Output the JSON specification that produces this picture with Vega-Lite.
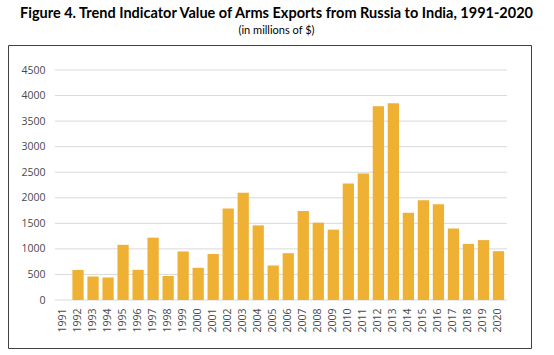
{
  "$schema": "https://vega.github.io/schema/vega-lite/v6.json",
  "width": 523,
  "height": 303,
  "autosize": {"type": "none"},
  "padding": {"left": 8, "top": 45, "right": 23, "bottom": 7},
  "background": "white",
  "title": {
    "text": "Figure 4. Trend Indicator Value of Arms Exports from Russia to India, 1991-2020",
    "subtitle": "(in millions of $)",
    "anchor": "middle",
    "frame": "group",
    "dx": 7,
    "offset": 8,
    "font": "Lato",
    "fontSize": 14.5,
    "fontWeight": "bold",
    "color": "#000000",
    "subtitleFont": "Lato",
    "subtitleFontSize": 11,
    "subtitleColor": "#000000",
    "subtitlePadding": 4
  },
  "config": {
    "view": {"stroke": "#404040", "strokeWidth": 1},
    "axis": {"labelFont": "Open Sans", "labelFontSize": 10.5, "labelColor": "#4a4a4a"}
  },
  "layer": [
    {
      "data": {"values": [
        {"v": 0}, {"v": 500}, {"v": 1000}, {"v": 1500}, {"v": 2000},
        {"v": 2500}, {"v": 3000}, {"v": 3500}, {"v": 4000}, {"v": 4500}
      ]},
      "mark": {"type": "rule", "color": "#d9d9d9", "strokeWidth": 1},
      "encoding": {
        "x": {"datum": 0, "type": "quantitative", "scale": {"domain": [0, 1], "range": [47, 499]}, "axis": null},
        "x2": {"datum": 1},
        "y": {
          "field": "v", "type": "quantitative",
          "scale": {"domain": [0, 4500], "range": [255, 25], "nice": false},
          "axis": {"title": null, "offset": -40, "domain": false, "ticks": false, "grid": false, "labelPadding": 3, "format": "d", "values": [0, 500, 1000, 1500, 2000, 2500, 3000, 3500, 4000, 4500]}
        }
      }
    },
    {
      "data": {"values": [
        {"year": "1991", "value": 0},
        {"year": "1992", "value": 587},
        {"year": "1993", "value": 460},
        {"year": "1994", "value": 440},
        {"year": "1995", "value": 1080},
        {"year": "1996", "value": 590},
        {"year": "1997", "value": 1220},
        {"year": "1998", "value": 470},
        {"year": "1999", "value": 950},
        {"year": "2000", "value": 630},
        {"year": "2001", "value": 900},
        {"year": "2002", "value": 1790},
        {"year": "2003", "value": 2100},
        {"year": "2004", "value": 1460},
        {"year": "2005", "value": 675},
        {"year": "2006", "value": 916},
        {"year": "2007", "value": 1740},
        {"year": "2008", "value": 1513},
        {"year": "2009", "value": 1377},
        {"year": "2010", "value": 2280},
        {"year": "2011", "value": 2475},
        {"year": "2012", "value": 3790},
        {"year": "2013", "value": 3850},
        {"year": "2014", "value": 1705},
        {"year": "2015", "value": 1950},
        {"year": "2016", "value": 1872},
        {"year": "2017", "value": 1398},
        {"year": "2018", "value": 1097},
        {"year": "2019", "value": 1172},
        {"year": "2020", "value": 955}
      ]},
      "mark": {"type": "bar", "color": "#EFB133"},
      "encoding": {
        "x": {
          "field": "year", "type": "ordinal",
          "scale": {"type": "band", "range": [47.5, 498], "paddingInner": 0.25, "paddingOuter": 0.125},
          "axis": {"title": null, "labelAngle": -90, "offset": -43, "domain": false, "ticks": false, "labelPadding": 3, "grid": false}
        },
        "y": {
          "field": "value", "type": "quantitative",
          "scale": {"domain": [0, 4500], "range": [255, 25], "nice": false},
          "axis": {"title": null, "offset": -40, "domain": false, "ticks": false, "grid": false, "labelPadding": 3, "format": "d", "values": [0, 500, 1000, 1500, 2000, 2500, 3000, 3500, 4000, 4500]}
        }
      }
    }
  ],
  "resolve": {"scale": {"x": "independent"}}
}
